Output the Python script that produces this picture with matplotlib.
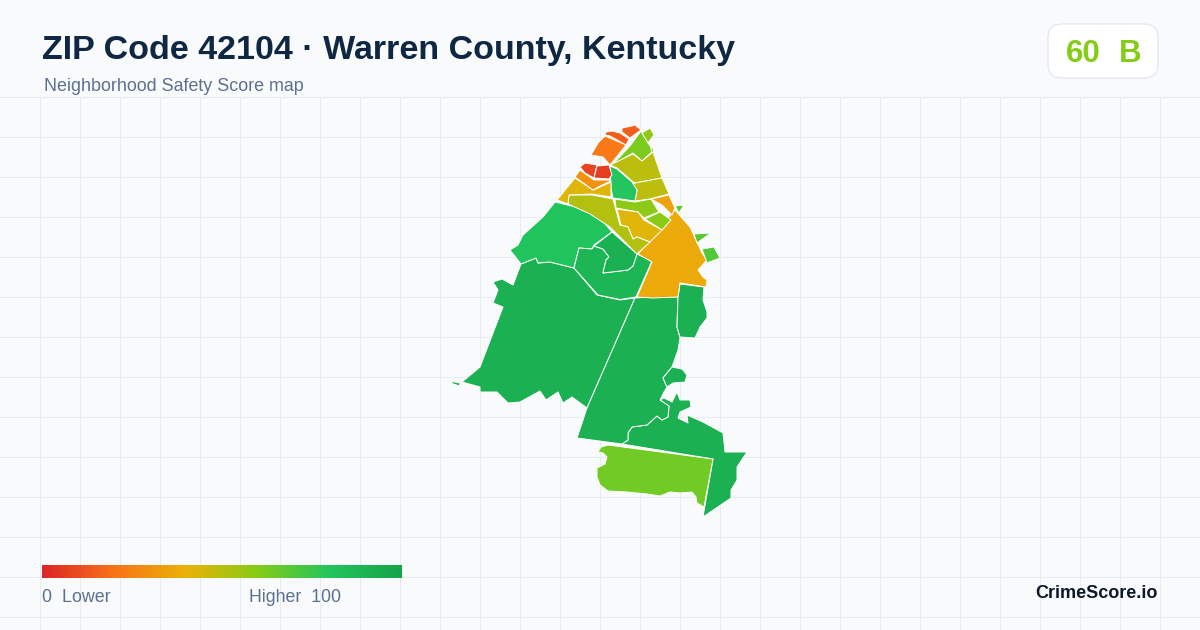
import numpy as np
import matplotlib
matplotlib.use('Agg')
import matplotlib.pyplot as plt
from matplotlib.colors import LinearSegmentedColormap, Normalize
from matplotlib.patches import FancyBboxPatch, Polygon

plt.rcParams['font.family'] = ['Liberation Sans', 'DejaVu Sans']

title = 'ZIP Code 42104 · Warren County, Kentucky'
subtitle = 'Neighborhood Safety Score map'
overall_score = '60'
overall_grade = 'B'
brand = 'CrimeScore.io'

legend_stops = [0, 20, 40, 60, 80, 100]
legend_colors = ['#dc2626', '#f97316', '#eab308', '#84cc16', '#22c55e', '#16a34a']

# Neighborhood scores and outlines in image pixels
tract_scores = [92, 92, 92, 92, 92, 81, 89, 92, 64, 37,
                15, 15, 22, 62, 58, 58, 49, 49, 80, 35, 58, 59, 42, 51, 42, 30, 8, 6,
                68, 68, 70]
tract_outlines = [
    # south-west
    [(574, 268), (550, 262), (538, 263), (536, 258), (521, 264), (513, 285), (502, 279), (493, 282),
     (498, 290), (493, 303), (503, 307), (480, 367), (462, 382), (480, 387), (480, 392), (497, 392),
     (508, 403), (520, 402), (540, 391), (546, 400), (558, 392), (563, 403), (572, 397), (587, 408),
     (635, 298), (620, 300), (597, 295)],
    [(452, 381.5), (460, 383), (459.5, 386), (452, 383.5)],
    # centre south
    [(635, 298), (653, 297), (678, 297), (677, 327), (680, 338), (678, 350), (672, 367), (663, 378),
     (667, 387), (664, 392), (660, 400), (669, 406), (668, 417), (662, 420), (657, 416), (647, 425),
     (632, 427), (628, 433), (628, 440), (622, 444), (577, 438), (587, 408)],
    # small east blocks
    [(680, 284), (704, 287), (703, 300), (707, 312), (707, 318), (700, 327), (695, 338), (680, 337),
     (677, 327), (678, 297)],
    [(672, 367), (682, 369), (687, 375), (685, 382), (673, 383), (667, 387), (663, 378)],
    # north-west and its inner blocks
    [(555, 202), (580, 208), (600, 218), (612, 232), (594, 245), (592, 249), (579, 248), (574, 268),
     (550, 262), (538, 263), (536, 258), (521, 264), (510, 250), (518, 245), (523, 235), (533, 226),
     (543, 217)],
    [(579, 248), (592, 249), (594, 246), (603, 249), (609, 257), (606, 260), (603, 273), (628, 270),
     (633, 266), (637, 254), (652, 261), (636, 297), (620, 299.5), (598, 295), (574, 268)],
    [(612, 232), (637, 254), (633, 266), (628, 270), (603, 273), (606, 260), (609, 257), (603, 249),
     (594, 246)],
    # lime block in the south
    [(598, 452), (601, 447), (608, 445), (713, 459), (704, 507), (697, 503), (696, 497), (692, 492),
     (680, 493), (670, 492), (660, 496), (647, 494), (627, 492), (608, 491), (600, 485), (597, 477),
     (597, 468), (605, 464), (607, 457), (603, 453)],
    # large orange tract
    [(675, 210), (690, 227), (702, 253), (707, 260), (698, 270), (703, 277), (707, 280), (706, 287),
     (680, 283), (678, 297), (653, 298), (637, 297), (652, 262), (638, 254)],
    # north tip
    [(606, 132), (612, 131), (620, 133), (629, 139), (626, 145), (610, 136), (605, 135)],
    [(622, 128), (632, 126), (635, 125), (641, 130), (630, 138), (622, 132)],
    [(605, 136), (626, 145), (610, 165), (603, 157), (591, 155), (598, 143)],
    [(641, 131), (653, 151), (642, 161), (633, 153), (612, 165), (630, 146)],
    [(642, 133), (650, 128), (654, 135), (648, 143)],
    [(651, 148), (653, 148), (654, 153), (652, 154)],
    [(610, 165), (633, 154), (642, 161), (653, 152), (662, 178), (635, 183), (632, 181), (617, 168)],
    [(635, 183), (662, 178), (669, 194), (650, 199), (635, 201), (637, 190), (632, 185)],
    [(610, 166), (617, 169), (632, 182), (637, 190), (635, 201), (613, 198), (611, 188)],
    [(651, 199), (669, 195), (675, 208), (672, 215), (662, 205)],
    [(615, 199), (635, 202), (651, 199), (659, 212), (644, 218), (638, 212), (616, 208)],
    [(645, 219), (660, 212), (671, 220), (662, 230)],
    [(617, 209), (638, 212), (644, 220), (662, 230), (650, 242), (637, 237), (633, 239), (628, 227),
     (621, 225)],
    [(569, 195), (592, 195), (613, 199), (620, 225), (628, 227), (633, 239), (637, 237), (650, 242),
     (637, 254), (610, 227), (590, 214), (568, 204)],
    [(575, 178), (593, 190), (600, 187), (611, 182), (611, 197), (592, 194), (569, 195), (568, 204),
     (557, 200)],
    [(580, 170), (594, 180), (609, 180), (611, 181), (600, 186), (593, 190), (575, 177)],
    [(585, 163), (597, 165), (594, 178), (585, 173), (580, 167)],
    [(597, 166), (609, 165), (612, 175), (609, 179), (594, 178)],
    # detached bits on the east side
    [(675, 206), (684, 205), (679, 213)],
    [(694, 234), (711, 233), (697, 243)],
    [(702, 249), (714, 247), (720, 258), (707, 263)],
]
southeast_score = 92
southeast_outline = [(660, 400), (664, 398), (672, 402), (677, 392), (680, 400), (690, 400), (691, 407),
                     (680, 412), (678, 418), (688, 423), (687, 415), (703, 422), (723, 433), (725, 452),
                     (747, 452), (737, 467), (737, 480), (731, 490), (731, 498), (703, 517), (713, 459),
                     (622, 444), (628, 440), (628, 433), (632, 427), (647, 425), (657, 416), (662, 420),
                     (668, 417), (669, 406)]

cmap = LinearSegmentedColormap.from_list(
    'safety', [(s / 100, c) for s, c in zip(legend_stops, legend_colors)])
norm = Normalize(0, 100)

fig = plt.figure(figsize=(12, 6.3), dpi=100, facecolor='#f8fafc')
ax = fig.add_axes([0, 0, 1, 1])
ax.set_xlim(0, 1200)
ax.set_ylim(630, 0)
ax.axis('off')

# background grid
for gx in np.arange(40, 1200, 40):
    ax.plot([gx, gx], [97, 630], color='#e6edf2', lw=0.8, zorder=1)
for gy in np.arange(96.5, 630, 40):
    ax.plot([0, 1200], [gy, gy], color='#e6edf2', lw=0.8, zorder=1)

for outline, score in zip([southeast_outline] + tract_outlines, [southeast_score] + tract_scores):
    ax.add_patch(Polygon(outline, closed=True, facecolor=cmap(norm(score)), edgecolor='white',
                         lw=0.7, joinstyle='round', zorder=2))

ax.text(42, 59, title, fontsize=24.5, fontweight='bold', color='#0f2742', va='baseline', zorder=5)
ax.text(44, 91, subtitle, fontsize=12.9, color='#5b7190', va='baseline', zorder=5)

# score badge
ax.add_patch(FancyBboxPatch((1062, 38), 82, 26, boxstyle='round,pad=14,rounding_size=14',
                            facecolor='white', edgecolor='#e2e8f0', lw=0.9, zorder=3))
ax.text(1083, 62, overall_score, fontsize=22.5, fontweight='bold', color='#84cc16', ha='center',
        va='baseline', zorder=5)
ax.text(1130, 62, overall_grade, fontsize=22.5, fontweight='bold', color='#84cc16', ha='center',
        va='baseline', zorder=5)

# legend
gradient = np.linspace(0, 100, 360).reshape(1, -1)
ax.imshow(gradient, cmap=cmap, norm=norm, extent=(42, 402, 578, 565), aspect='auto', zorder=4)
ax.set_xlim(0, 1200)
ax.set_ylim(630, 0)
ax.text(42, 602, '0  Lower', fontsize=12.9, color='#5b7190', va='baseline', zorder=5)
ax.text(249, 602, 'Higher  100', fontsize=12.8, color='#5b7190', va='baseline', zorder=5)
ax.text(1158, 598, brand, fontsize=13, fontweight='bold', color='#0f172a', ha='right',
        va='baseline', zorder=5)

fig.savefig('out.png', dpi=100, facecolor=fig.get_facecolor())
